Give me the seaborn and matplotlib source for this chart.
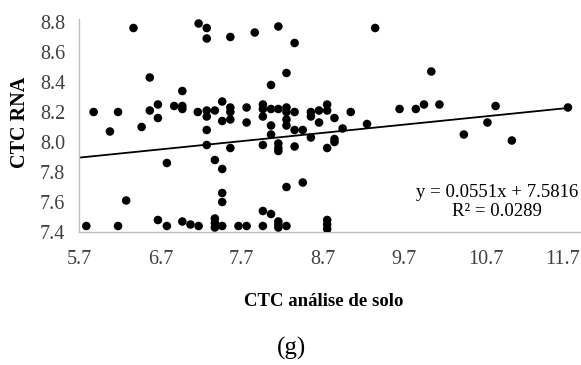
import matplotlib
matplotlib.use("Agg")
import matplotlib.pyplot as plt
import matplotlib.transforms as mtransforms
import seaborn as sns
import numpy as np
import pandas as pd

# Data
ctc_solo = [6.37, 7.17, 6.57, 5.88, 6.18, 6.57, 6.67, 6.67, 6.87, 6.97, 6.97, 6.97, 7.16, 6.08, 6.47,
            7.27, 7.27, 7.56, 7.86, 8.15, 8.35, 9.34, 8.25, 8.06,
            7.27, 7.27, 7.37, 7.46, 7.56, 7.56, 7.56, 7.46, 7.76, 7.76,
            7.96, 7.96, 7.96, 8.06, 8.15, 8.25, 8.25, 8.25, 8.25, 8.35, 8.55, 8.55, 8.65, 8.65,
            8.75, 8.75, 8.84, 9.04, 7.27, 8.06, 8.06, 8.35, 8.45, 8.55, 8.94, 9.24,
            7.27, 7.56, 7.96, 8.15, 8.15, 8.15, 8.35, 8.75, 8.84, 8.84,
            7.37, 7.46, 8.25, 8.45, 7.46, 7.46, 7.96, 8.06,
            6.97, 7.07, 7.17, 7.37, 7.37, 7.37, 7.46, 7.66, 7.76, 7.96, 8.15, 8.15, 8.15, 8.25,
            8.75, 8.75, 8.75, 6.78, 6.28, 5.79, 6.18, 6.67, 6.78,
            10.03, 9.64, 9.84, 9.94, 10.13, 10.82, 11.71, 10.72, 10.43, 11.02]
ctc_rna = [8.76, 8.79, 8.43, 8.20, 8.20, 8.21, 8.25, 8.16, 8.24, 8.34, 8.24, 8.22, 8.20, 8.07, 8.10,
           8.76, 8.69, 8.70, 8.73, 8.77, 8.66, 8.76, 8.46, 8.38,
           8.21, 8.17, 8.21, 8.27, 8.23, 8.20, 8.15, 8.14, 8.23, 8.13,
           8.25, 8.22, 8.17, 8.22, 8.22, 8.23, 8.20, 8.15, 8.11, 8.20, 8.20, 8.17, 8.21, 8.13,
           8.25, 8.21, 8.16, 8.20, 8.08, 8.11, 8.05, 8.08, 8.08, 8.03, 8.09, 8.12,
           7.98, 7.96, 7.98, 7.99, 7.96, 7.94, 7.97, 7.96, 8.02, 8.00,
           7.88, 7.82, 7.70, 7.73, 7.66, 7.60, 7.54, 7.52,
           7.47, 7.45, 7.44, 7.49, 7.46, 7.43, 7.44, 7.44, 7.44, 7.44, 7.47, 7.45, 7.43, 7.44,
           7.48, 7.45, 7.42, 7.86, 7.61, 7.44, 7.44, 7.48, 7.44,
           8.47, 8.22, 8.22, 8.25, 8.25, 8.24, 8.23, 8.13, 8.05, 8.01]

trend_slope = 0.0551
trend_intercept = 7.5816
trend_x = [5.7, 11.7]
x_ticks = [5.7, 6.7, 7.7, 8.7, 9.7, 10.7, 11.7]
y_ticks = [7.4, 7.6, 7.8, 8.0, 8.2, 8.4, 8.6, 8.8]

df = pd.DataFrame({"x": ctc_solo, "y": ctc_rna})
trend = pd.DataFrame({"x": trend_x,
                      "y": [trend_slope * v + trend_intercept for v in trend_x]})

sns.set_style("white")
plt.rcParams["font.family"] = ["Liberation Serif", "DejaVu Serif"]

fig = plt.figure(figsize=(5.81, 3.65), dpi=100)
ax = fig.add_axes([79 / 581, (365 - 232) / 365, (581 - 79) / 581, (232 - 19) / 365])

sns.scatterplot(data=df, x="x", y="y", ax=ax, color="black", s=38,
                edgecolor="none", linewidth=0, zorder=3)
sns.lineplot(data=trend, x="x", y="y", ax=ax, color="black", linewidth=1.3, zorder=2)

ax.set_xlim(5.7, 5.7 + (581 - 80) / 81.2)
ax.set_ylim(7.4, 7.4 + (232 - 19) / 150)
ax.set_xticks(x_ticks)
ax.set_xticklabels([f"{v:.1f}" for v in x_ticks])
ax.set_yticks(y_ticks)
ax.set_yticklabels([f"{v:.1f}" for v in y_ticks])
ax.tick_params(axis="both", length=0, labelsize=14.5, labelcolor="#404040")
ax.tick_params(axis="x", pad=13)
ax.tick_params(axis="y", pad=10)

# keep the last x tick label inside the figure
last = ax.get_xticklabels()[-1]
last.set_transform(last.get_transform() +
                   mtransforms.ScaledTranslation(-5 / 100, 0, fig.dpi_scale_trans))

for side in ["top", "right"]:
    ax.spines[side].set_visible(False)
for side in ["left", "bottom"]:
    ax.spines[side].set_color("#bfbfbf")
    ax.spines[side].set_linewidth(1.0)

ax.set_xlabel("")
ax.set_ylabel("")

fig.text(20 / 581, 1 - 122 / 365, "CTC RNA", rotation=90, ha="center", va="center",
         fontsize=14.5, fontweight="bold", color="black")
fig.text(324 / 581, 1 - 301 / 365, "CTC análise de solo", ha="center", va="center",
         fontsize=13.5, fontweight="bold", color="black")
fig.text(291 / 581, 1 - 348 / 365, "(g)", ha="center", va="center",
         fontsize=18, color="black")
fig.text(497 / 581, 1 - 202 / 365, "y = 0.0551x + 7.5816\nR² = 0.0289", ha="center",
         va="center", multialignment="center", fontsize=13.5, color="black",
         linespacing=1.15)

fig.savefig("out.png", dpi=100)
